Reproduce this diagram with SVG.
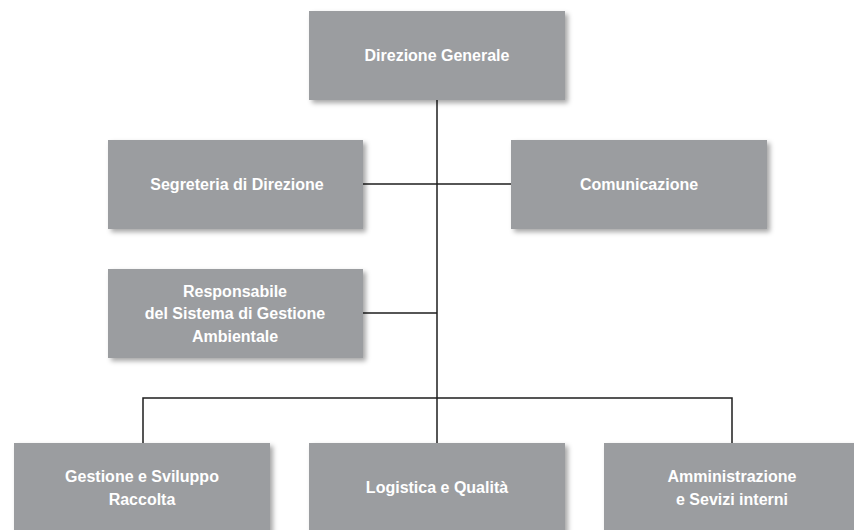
<svg xmlns="http://www.w3.org/2000/svg" width="854" height="530" viewBox="0 0 854 530">
<defs>
<filter id="sh" x="-10%" y="-10%" width="125%" height="130%">
<feDropShadow dx="3" dy="3" stdDeviation="2.5" flood-color="#000" flood-opacity="0.35"/>
</filter>
<style>
.box{fill:#9b9da0;filter:url(#sh)}
.t{font-family:"Liberation Sans",Arial,sans-serif;font-size:16px;font-weight:bold;fill:#ffffff;text-anchor:middle}
.ln{stroke:#1e1e1e;stroke-width:1.5;fill:none}
</style>
</defs>
<rect width="854" height="530" fill="#ffffff"/>
<g id="connectors">
<path class="ln" d="M437 100 V443"/>
<path class="ln" d="M363 184 H511"/>
<path class="ln" d="M363 313 H437"/>
<path class="ln" d="M143 443 V398 H732 V443"/>
</g>
<g id="direzione-generale">
<rect class="box" x="309" y="11" width="256" height="89"/>
<text class="t" x="437" y="61">Direzione Generale</text>
</g>
<g id="segreteria">
<rect class="box" x="108" y="140" width="255" height="89"/>
<text class="t" x="237" y="190">Segreteria di Direzione</text>
</g>
<g id="comunicazione">
<rect class="box" x="511" y="140" width="256" height="89"/>
<text class="t" x="639" y="190">Comunicazione</text>
</g>
<g id="responsabile-sga">
<rect class="box" x="108" y="269" width="255" height="89"/>
<text class="t" x="235" y="297">Responsabile</text>
<text class="t" x="235" y="319">del Sistema di Gestione</text>
<text class="t" x="235" y="342">Ambientale</text>
</g>
<g id="gestione-sviluppo">
<rect class="box" x="14" y="443" width="256" height="92"/>
<text class="t" x="142" y="482">Gestione e Sviluppo</text>
<text class="t" x="142" y="505">Raccolta</text>
</g>
<g id="logistica">
<rect class="box" x="309" y="443" width="256" height="92"/>
<text class="t" x="437" y="493">Logistica e Qualità</text>
</g>
<g id="amministrazione">
<rect class="box" x="604" y="443" width="256" height="92"/>
<text class="t" x="732" y="482">Amministrazione</text>
<text class="t" x="732" y="505">e Sevizi interni</text>
</g>
</svg>
